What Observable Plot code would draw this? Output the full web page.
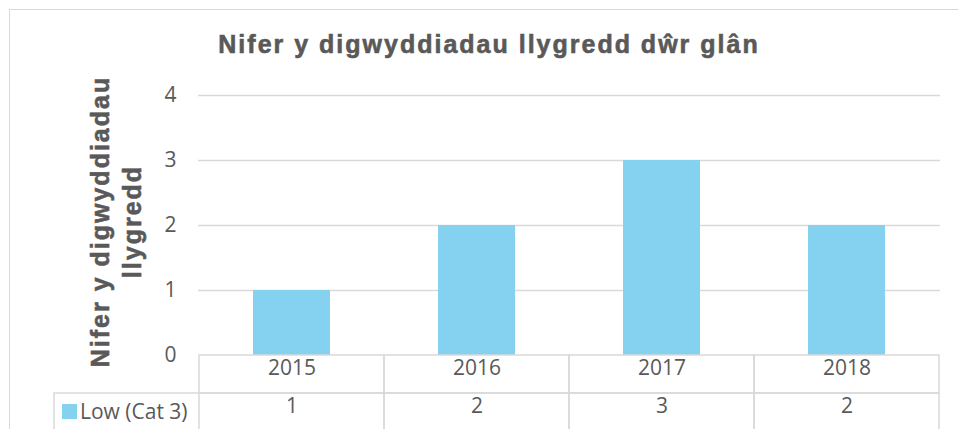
<!DOCTYPE html>
<html>
<head>
<meta charset="utf-8">
<script src="https://cdn.jsdelivr.net/npm/d3@7"></script>
<script src="https://cdn.jsdelivr.net/npm/@observablehq/plot@0.6"></script>
<style>
html, body { margin: 0; padding: 0; background: #fff; overflow: hidden; }
#wrap { position: relative; width: 958px; height: 429px; overflow: hidden; }
#border { position: absolute; left: 9px; top: 9px; width: 1000px; height: 1000px; border: 1px solid #d9d9d9; box-sizing: border-box; }
#chart { position: absolute; left: 0; top: 0; }
#title { position: absolute; left: 0; top: 32px; width: 978px; text-align: center; font-family: "Liberation Sans", Arial, sans-serif; font-weight: bold; font-size: 25px; line-height: 25px; letter-spacing: 2px; color: #595959; white-space: nowrap; -webkit-text-stroke: 0.6px #595959; }
</style>
</head>
<body>
<div id="wrap">
  <div id="border"></div>
  <div id="chart"></div>
  <div id="title"></div>
</div>
<script>
const years = ["2015", "2016", "2017", "2018"];
const lowCat3 = [1, 2, 3, 2];
const yTicks = [0, 1, 2, 3, 4];
const seriesName = "Low (Cat 3)";
const titleText = "Nifer y digwyddiadau llygredd dŵr glân";
const yLabelLines = ["Nifer y digwyddiadau", "llygredd"];

const data = years.map((year, i) => ({year, value: lowCat3[i]}));

const grey = "#595959";
const lineColor = "#d9d9d9";
const blue = "#84d2f0";

document.getElementById("title").textContent = titleText;

const legendCell = (index, scales, values, dimensions) => {
  const x0 = dimensions.marginLeft;
  const top = dimensions.height - dimensions.marginBottom + 38;
  const g = d3.create("svg:g");
  g.append("path")
    .attr("d", `M${x0 - 144},${top + 40}V${top}H${x0}`)
    .attr("fill", "none").attr("stroke", lineColor).attr("stroke-width", 1.5);
  g.append("rect").attr("x", x0 - 136).attr("y", top + 11).attr("width", 15).attr("height", 15)
    .attr("fill", blue);
  g.append("text").attr("x", x0 - 118).attr("y", top + 19).attr("dy", "0.35em")
    .attr("text-anchor", "start").attr("fill", grey).style("font-size", "21px").text(seriesName);
  return g.node();
};

const chart = Plot.plot({
  width: 958,
  height: 429,
  marginLeft: 198,
  marginRight: 18,
  marginTop: 95,
  marginBottom: 74,
  style: {fontFamily: "'Open Sans', sans-serif", fontSize: "21px", color: grey, background: "transparent", overflow: "visible"},
  x: {domain: years, padding: 0, axis: null},
  y: {domain: [0, 4], ticks: 4, tickSize: 0, tickPadding: 22, label: null, tickFormat: d => String(d)},
  marks: [
    Plot.ruleY(yTicks.filter(d => d > 0), {stroke: lineColor, strokeWidth: 1.5}),
    Plot.barY(data, {x: "year", y: "value", fill: blue, insetLeft: 54, insetRight: 54}),
    Plot.barY(data, {x: "year", y1: 0, y2: 0, insetTop: 0, insetBottom: -38, fill: "none", stroke: lineColor, strokeWidth: 1.5}),
    Plot.barY(data, {x: "year", y1: 0, y2: 0, insetTop: 38, insetBottom: -76, fill: "none", stroke: lineColor, strokeWidth: 1.5}),
    Plot.text(data, {x: "year", frameAnchor: "bottom", dy: 19.5, text: "year", fill: grey, fontSize: 21}),
    Plot.text(data, {x: "year", frameAnchor: "bottom", dy: 57.5, text: d => String(d.value), fill: grey, fontSize: 21}),
    Plot.text([yLabelLines.join("\n")], {frameAnchor: "left", textAnchor: "middle", lineAnchor: "middle", rotate: -90, dx: -84, dy: -4, text: d => d,
      fontFamily: "Liberation Sans, Arial, sans-serif", fontWeight: "bold", fontSize: 25, lineHeight: 1.3, fill: grey,
      stroke: grey, strokeWidth: 0.6}),
    legendCell
  ]
});
d3.select(chart).selectAll("text")
  .filter(function() { return this.textContent.startsWith(yLabelLines[0]); })
  .attr("letter-spacing", "2px");
document.getElementById("chart").appendChild(chart);
</script>
</body>
</html>
